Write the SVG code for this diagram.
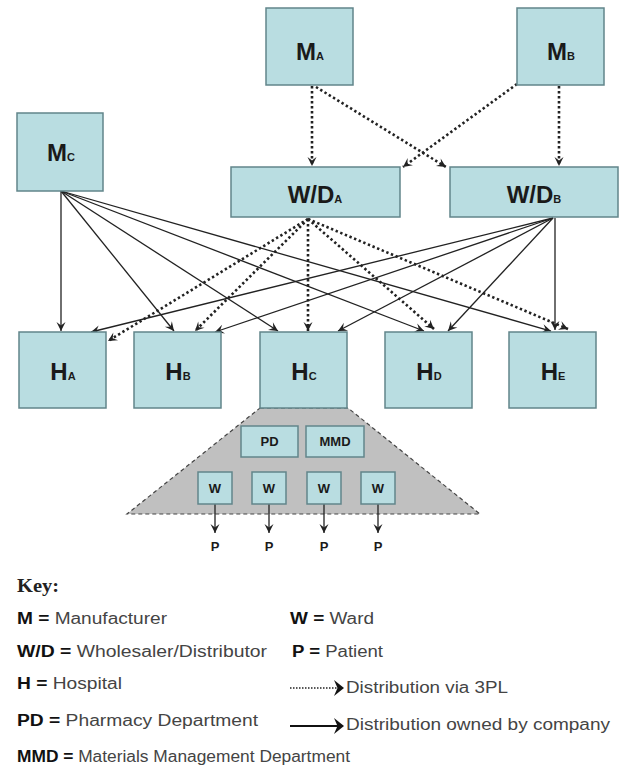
<svg xmlns="http://www.w3.org/2000/svg" width="619" height="767" viewBox="0 0 619 767">
<style>
.node{fill:#b9dde1;stroke:#62858a;stroke-width:1.5}
.lbl{font-family:"Liberation Sans",Arial,sans-serif;font-weight:bold;fill:#1a1a1a;text-anchor:middle}
.big{font-size:24px}
.sub{font-size:11px}
.sm{font-size:13px}
.solid{stroke:#222;stroke-width:1.3;fill:none;marker-end:url(#arr)}
.dot{stroke:#222;stroke-width:2.6;stroke-dasharray:2.4 2.6;fill:none;marker-end:url(#arr)}
.key{font-family:"Liberation Sans",Arial,sans-serif;font-size:16px;fill:#444}
.key tspan.b{font-weight:bold;fill:#111}
.khead{fill:#111}
</style>
<defs>
<marker id="arr" viewBox="-10 -5 11 10" refX="0" refY="0" markerWidth="11" markerHeight="10" markerUnits="userSpaceOnUse" orient="auto">
<path d="M0,0 L-9,-4.5 L-5.5,0 L-9,4.5 z" fill="#222"/>
</marker>
</defs>

<g id="hospital-detail">
<polygon points="260,408 348,408 480,514 127,514" fill="#c0c0c0" stroke="#444" stroke-width="1.2" stroke-dasharray="4 3"/>
</g>

<g id="connectors">
<line class="dot" x1="312" y1="86" x2="312" y2="166"/>
<line class="dot" x1="316" y1="87" x2="446" y2="167"/>
<line class="dot" x1="517" y1="84" x2="403" y2="167"/>
<line class="dot" x1="559" y1="86" x2="559" y2="166"/>

<line class="solid" x1="61" y1="191" x2="61" y2="331"/>
<line class="solid" x1="61" y1="191" x2="174" y2="331"/>
<line class="solid" x1="61" y1="191" x2="278" y2="331"/>
<line class="solid" x1="61" y1="191" x2="424" y2="331"/>
<line class="solid" x1="61" y1="191" x2="551" y2="331"/>

<line class="solid" x1="553" y1="218" x2="91" y2="332"/>
<line class="solid" x1="553" y1="218" x2="215" y2="332"/>
<line class="solid" x1="553" y1="218" x2="338" y2="331"/>
<line class="solid" x1="553" y1="218" x2="448" y2="331"/>
<line class="solid" x1="555" y1="218" x2="555" y2="330"/>

<line class="dot" x1="308" y1="219" x2="108" y2="341"/>
<line class="dot" x1="308" y1="219" x2="195" y2="331"/>
<line class="dot" x1="308" y1="219" x2="308" y2="331"/>
<line class="dot" x1="308" y1="219" x2="434" y2="329"/>
<line class="dot" x1="308" y1="219" x2="568" y2="329"/>

<line class="solid" x1="215" y1="504" x2="215" y2="533"/>
<line class="solid" x1="269" y1="504" x2="269" y2="533"/>
<line class="solid" x1="324" y1="504" x2="324" y2="533"/>
<line class="solid" x1="378" y1="504" x2="378" y2="533"/>
</g>

<g id="MA"><rect class="node" x="266" y="8" width="87" height="77"/><text class="lbl big" x="310" y="60">M<tspan class="sub">A</tspan></text></g>
<g id="MB"><rect class="node" x="517" y="8" width="87" height="77"/><text class="lbl big" x="561" y="60">M<tspan class="sub">B</tspan></text></g>
<g id="MC"><rect class="node" x="17" y="113" width="86" height="78"/><text class="lbl big" x="61" y="161">M<tspan class="sub">C</tspan></text></g>
<g id="WDA"><rect class="node" x="231" y="167" width="169" height="50"/><text class="lbl big" x="315" y="203">W/D<tspan class="sub">A</tspan></text></g>
<g id="WDB"><rect class="node" x="450" y="167" width="168" height="50"/><text class="lbl big" x="534" y="203">W/D<tspan class="sub">B</tspan></text></g>

<g id="HA"><rect class="node" x="19" y="332" width="87" height="76"/><text class="lbl big" x="63" y="380">H<tspan class="sub">A</tspan></text></g>
<g id="HB"><rect class="node" x="134" y="332" width="87" height="76"/><text class="lbl big" x="178" y="380">H<tspan class="sub">B</tspan></text></g>
<g id="HC"><rect class="node" x="260" y="332" width="87" height="76"/><text class="lbl big" x="304" y="380">H<tspan class="sub">C</tspan></text></g>
<g id="HD"><rect class="node" x="385" y="332" width="87" height="76"/><text class="lbl big" x="429" y="380">H<tspan class="sub">D</tspan></text></g>
<g id="HE"><rect class="node" x="509" y="332" width="87" height="76"/><text class="lbl big" x="553" y="380">H<tspan class="sub">E</tspan></text></g>

<g id="PD"><rect class="node" x="241" y="426" width="57" height="31"/><text class="lbl sm" x="269.5" y="446">PD</text></g>
<g id="MMD"><rect class="node" x="306" y="426" width="58" height="31"/><text class="lbl sm" x="335" y="446">MMD</text></g>
<g id="W1"><rect class="node" x="198" y="472" width="34" height="32"/><text class="lbl sm" x="215" y="493">W</text></g>
<g id="W2"><rect class="node" x="252" y="472" width="34" height="32"/><text class="lbl sm" x="269" y="493">W</text></g>
<g id="W3"><rect class="node" x="307" y="472" width="34" height="32"/><text class="lbl sm" x="324" y="493">W</text></g>
<g id="W4"><rect class="node" x="361" y="472" width="34" height="32"/><text class="lbl sm" x="378" y="493">W</text></g>
<g id="P1"><text class="lbl sm" x="215" y="551">P</text></g>
<g id="P2"><text class="lbl sm" x="269" y="551">P</text></g>
<g id="P3"><text class="lbl sm" x="324" y="551">P</text></g>
<g id="P4"><text class="lbl sm" x="378" y="551">P</text></g>

<g id="key">
<text x="17" y="592" font-family="'Liberation Serif','Times New Roman',serif" font-weight="bold" font-size="18" fill="#222" textLength="42" lengthAdjust="spacingAndGlyphs">Key:</text>
<text class="key" x="17" y="624" textLength="150" lengthAdjust="spacingAndGlyphs"><tspan class="b">M =</tspan> Manufacturer</text>
<text class="key" x="17" y="657" textLength="250" lengthAdjust="spacingAndGlyphs"><tspan class="b">W/D =</tspan> Wholesaler/Distributor</text>
<text class="key" x="17" y="689" textLength="105" lengthAdjust="spacingAndGlyphs"><tspan class="b">H =</tspan> Hospital</text>
<text class="key" x="17" y="726" textLength="241" lengthAdjust="spacingAndGlyphs"><tspan class="b">PD =</tspan> Pharmacy Department</text>
<text class="key" x="17" y="762" textLength="333" lengthAdjust="spacingAndGlyphs"><tspan class="b">MMD =</tspan> Materials Management Department</text>
<text class="key" x="290" y="624" textLength="84" lengthAdjust="spacingAndGlyphs"><tspan class="b">W =</tspan> Ward</text>
<text class="key" x="292" y="657" textLength="91" lengthAdjust="spacingAndGlyphs"><tspan class="b">P =</tspan> Patient</text>
<line x1="290" y1="688" x2="338" y2="688" stroke="#222" stroke-width="1.5" stroke-dasharray="1.5 1.5"/>
<path class="khead" d="M344,688 L334,680 L337.5,688 L334,696 z"/>
<text class="key" x="346" y="693" textLength="162" lengthAdjust="spacingAndGlyphs">Distribution via 3PL</text>
<line x1="290" y1="726" x2="338" y2="726" stroke="#111" stroke-width="2"/>
<path class="khead" d="M344,726 L334,718 L337.5,726 L334,734 z"/>
<text class="key" x="346" y="730" textLength="264" lengthAdjust="spacingAndGlyphs">Distribution owned by company</text>
</g>
</svg>
